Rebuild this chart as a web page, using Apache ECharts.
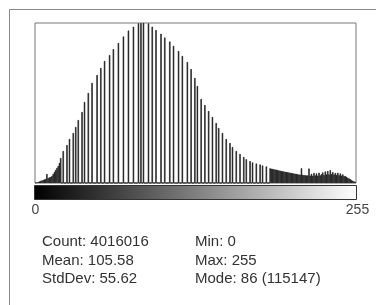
<!doctype html>
<html>
<head>
<meta charset="UTF-8">
<title>Histogram</title>
<script src="https://cdn.jsdelivr.net/npm/echarts@6/dist/echarts.min.js"></script>
<style>
    html, body { margin: 0; padding: 0; background: #fff; }
    #hist_chart { width: 376px; height: 305px; }
</style>
</head>
<body>
<div id="hist_chart"></div>
<script>
/* data */
// bins 0-19, every bin filled
const lowCounts = [200, 400, 700, 1100, 1500, 1800, 2200, 2500, 2900, 6500,
    3600, 4000, 4300, 5000, 6500, 7900, 9400, 10800, 12200, 14400];

// middle part: only some bins are used
const peakBins = [20, 22, 25, 27, 30, 32, 34, 37, 39, 42, 45, 49, 52, 55, 59, 62, 66, 70, 74, 78,
    82, 84, 86, 90, 93, 96, 100, 103, 107, 110, 114, 117, 121, 124, 127, 129, 132, 135, 138, 141,
    144, 146, 149, 152, 155, 157, 160, 163, 166, 168, 171, 173, 176, 179, 181, 184];
const peakCounts = [18000, 23000, 27300, 31700, 36000, 40300, 45300, 51100, 58300, 64800,
    72000, 77700, 82800, 87800, 92100, 96400, 100800, 105400, 109700, 112500,
    114900, 115000, 115147, 114800, 112500, 110100, 107400, 104700, 101800, 98700,
    95000, 91400, 87100, 82000, 75600, 69800, 60500, 56100, 51800, 47500,
    43200, 39600, 36000, 31700, 28800, 25900, 23000, 20900, 18700, 17100,
    15800, 14800, 14000, 13300, 12600, 11900];

// bins 187-255, every bin filled
const tailStart = 187;
const tailCounts = [10600, 10300, 10100, 9900, 9700, 9500, 9400, 9100, 8900, 8600,
    8500, 8300, 8100, 7900, 7700, 7600, 7400, 7200, 7000, 6800,
    6700, 6500, 6300, 6100, 6000, 10600, 5900, 5700, 5600, 5400,
    5500, 10400, 5300, 6600, 5200, 7200, 5400, 6900, 5300, 7400,
    5500, 6400, 7600, 5800, 8300, 6100, 8600, 6200, 9300, 6400,
    7800, 6100, 7200, 5800, 7400, 5600, 6900, 5300, 6200, 4900,
    5000, 4300, 3800, 3200, 2700, 2100, 1600, 1100, 700];

const rangeLabels = ['0', '255'];
const statsLeft = ['Count: 4016016', 'Mean: 105.58', 'StdDev: 55.62'];
const statsRight = ['Min: 0', 'Max: 255', 'Mode: 86 (115147)'];
const modeCount = 115147;

/* 256 bins */
let bins = [];
let counts = [];
for (let i = 0; i < 256; i++) {
    bins.push(i);
    counts.push(0);
}
lowCounts.forEach(function (v, i) { counts[i] = v; });
peakBins.forEach(function (b, i) { counts[b] = peakCounts[i]; });
tailCounts.forEach(function (v, i) { counts[tailStart + i] = v; });

/* texts */
let textFont = '15px "Liberation Sans", Arial, sans-serif';
let labelFont = '14px "Liberation Sans", Arial, sans-serif';
let graphics = [
    // outer window frame
    { type: 'line', shape: { x1: 9.5, y1: 9.5, x2: 376, y2: 9.5 }, style: { stroke: '#8a8a8a', lineWidth: 1 } },
    { type: 'line', shape: { x1: 9.5, y1: 9.5, x2: 9.5, y2: 305 }, style: { stroke: '#8a8a8a', lineWidth: 1 } },
    // grey ramp under the plot
    {
        type: 'rect',
        shape: { x: 34.5, y: 185.5, width: 322, height: 14 },
        style: {
            fill: new echarts.graphic.LinearGradient(0, 0, 1, 0, [
                { offset: 0, color: '#000' },
                { offset: 1, color: '#fff' }
            ]),
            stroke: '#333',
            lineWidth: 1
        }
    },
    { type: 'text', x: 35.5, y: 210, style: { text: rangeLabels[0], font: labelFont, fill: '#444', textAlign: 'center', textVerticalAlign: 'middle' } },
    { type: 'text', x: 357.5, y: 210, style: { text: rangeLabels[1], font: labelFont, fill: '#444', textAlign: 'center', textVerticalAlign: 'middle' } }
];
let rowY = [242, 261, 279];
statsLeft.forEach(function (t, i) {
    graphics.push({ type: 'text', x: 42, y: rowY[i], style: { text: t, font: textFont, fill: '#333', textVerticalAlign: 'middle' } });
});
statsRight.forEach(function (t, i) {
    graphics.push({ type: 'text', x: 195, y: rowY[i], style: { text: t, font: textFont, fill: '#333', textVerticalAlign: 'middle' } });
});

/* chart */
let hist_chart = echarts.init(document.getElementById('hist_chart'));
let option = {
    animation: false,
    grid: {
        show: true,
        left: 35, top: 23, width: 321, height: 160,
        borderColor: '#777',
        borderWidth: 1,
        backgroundColor: '#fff'
    },
    xAxis: {
        type: 'category',
        data: bins,
        show: false
    },
    yAxis: {
        type: 'value',
        min: 0,
        max: modeCount,
        show: false
    },
    series: [{
        type: 'bar',
        data: counts,
        barWidth: 1.4,
        barCategoryGap: 0,
        itemStyle: { color: '#1a1a1a', borderColor: '#1a1a1a', borderWidth: 0.6 }
    }],
    graphic: graphics
};
hist_chart.setOption(option);
</script>
</body>
</html>
